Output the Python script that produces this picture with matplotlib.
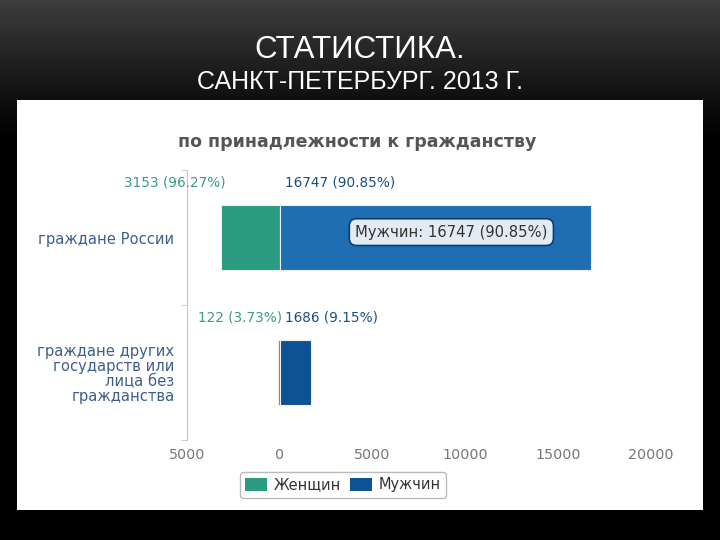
import matplotlib.pyplot as plt
import numpy as np
from matplotlib.patches import Rectangle, Patch

# данные
categories = ["граждане России", "граждане других\nгосударств или\nлица без\nгражданства"]
women = [3153, 122]
men = [16747, 1686]
women_pct = ["96.27%", "3.73%"]
men_pct = ["90.85%", "9.15%"]
xticks = [-5000, 0, 5000, 10000, 15000, 20000]

c_women = "#2a9a80"
c_men = "#0d5394"
c_men_hover = "#1f6db3"

fig = plt.figure(figsize=(7.2, 5.4), dpi=100)

# фон слайда (градиент)
bg = fig.add_axes([0, 0, 1, 1])
grad = np.concatenate([np.linspace(0.24, 0.04, 110), np.linspace(0.04, 0.0, 30), np.full(400, 0.0)])
bg.imshow(grad[:, None], aspect="auto", cmap="gray", vmin=0, vmax=1,
          extent=[0, 1, 0, 1])
bg.set_xlim(0, 1)
bg.set_ylim(0, 1)
bg.set_axis_off()
bg.add_patch(Rectangle((17 / 720, 1 - 510 / 540), 686 / 720, 410 / 540,
                       transform=bg.transAxes, facecolor="white", edgecolor="none"))

title_font = ["Liberation Sans", "DejaVu Sans"]
fig.text(0.5, 1 - 50 / 540, "СТАТИСТИКА.", color="white", fontsize=22.5,
         ha="center", va="center", family=title_font)
fig.text(0.5, 1 - 82 / 540, "САНКТ-ПЕТЕРБУРГ. 2013 Г.", color="white", fontsize=18,
         ha="center", va="center", family=title_font)

fig.text(357 / 720, 1 - 142 / 540, "по принадлежности к гражданству", color="#555555",
         fontsize=12.5, fontweight="bold", ha="center", va="center")

ax = fig.add_axes([187 / 720, 100 / 540, 464 / 720, 270 / 540])
y = np.arange(len(categories))
w = np.array(women)
m = np.array(men)

ax.barh(y, -w, height=0.48, color=c_women, edgecolor="#eeeeee", linewidth=0.8)
ax.barh(y, m, height=0.48, color=[c_men_hover, c_men], edgecolor="#eeeeee", linewidth=0.8)

ax.set_xlim(-5000, 20000)
ax.set_ylim(1.5, -0.5)
ax.set_xticks(xticks)
ax.set_xticklabels([str(abs(t)) for t in xticks])
ax.set_yticks(y)
ax.set_yticklabels(categories, color="#3d5f8f", fontsize=10.6, linespacing=1.0)
ax.set_yticks([-0.5, 0.5, 1.5], minor=True)
ax.tick_params(axis="y", which="major", length=0, pad=9)
ax.tick_params(axis="y", which="minor", length=4, color="#c8c8c8")
ax.tick_params(axis="x", length=0, labelcolor="#777777", labelsize=10.3, pad=6)
for s in ["top", "right", "bottom"]:
    ax.spines[s].set_visible(False)
ax.spines["left"].set_color("#c8c8c8")

for i in range(len(categories)):
    ax.annotate(f"{women[i]} ({women_pct[i]})", xy=(-women[i], i - 0.41),
                xytext=(3, 0), textcoords="offset points", ha="right", va="center",
                color="#3a9a8a", fontsize=9.8)
    ax.annotate(f"{men[i]} ({men_pct[i]})", xy=(0, i - 0.41),
                xytext=(4, 0), textcoords="offset points", ha="left", va="center",
                color="#1d4f7f", fontsize=9.8)

# подсказка
ax.text(men[0] * 0.552, -0.04, f"Мужчин: {men[0]} ({men_pct[0]})", ha="center", va="center",
        fontsize=10.6, color="#333333",
        bbox=dict(boxstyle="round,pad=0.4,rounding_size=0.5", facecolor="#e2eaf3",
                  edgecolor="#0a3f70", linewidth=1.2))

handles = [Patch(facecolor=c_women, label="Женщин"), Patch(facecolor=c_men, label="Мужчин")]
fig.legend(handles=handles, loc="center", bbox_to_anchor=(343 / 720, 1 - 485 / 540), ncol=2,
           frameon=True, fancybox=True, edgecolor="#aaaaaa", fontsize=10.5,
           handlelength=1.5, handleheight=1.0, handletextpad=0.5, columnspacing=0.6,
           borderpad=0.35, labelcolor="#333333")

fig.savefig("out.png", dpi=100)
